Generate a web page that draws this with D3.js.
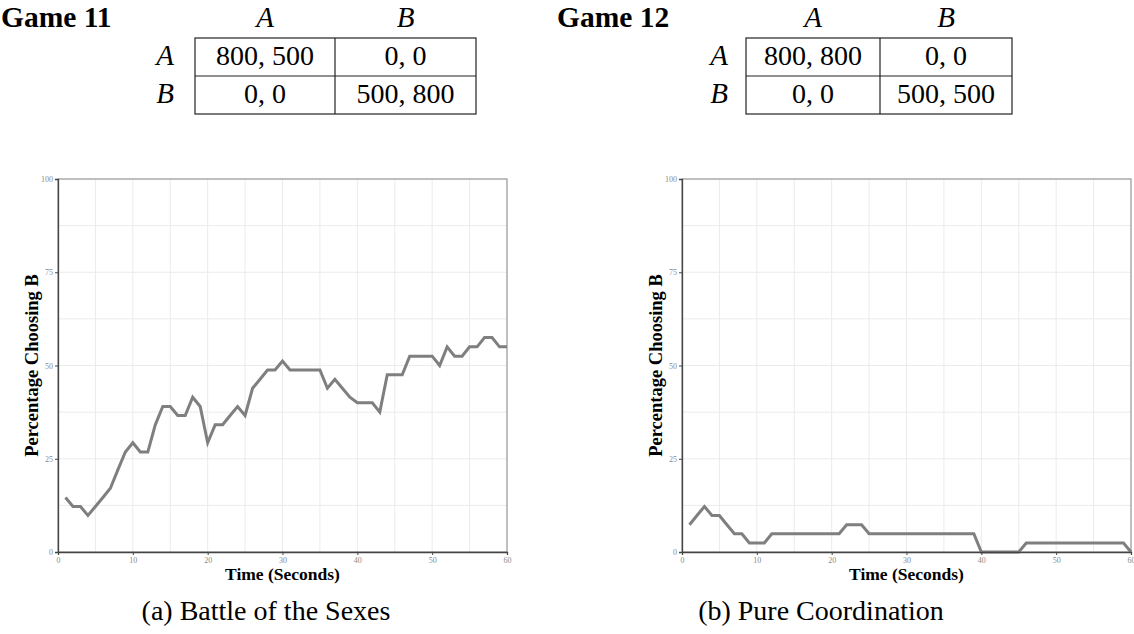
<!DOCTYPE html>
<html>
<head>
<meta charset="utf-8">
<script src="https://cdn.jsdelivr.net/npm/d3@7"></script>
<style>
  html, body { margin: 0; padding: 0; background: #fff; }
  svg { display: block; }
</style>
</head>
<body>
<svg id="fig" width="1134" height="634"></svg>
<script>
// Time in seconds for each observation
const seconds = [1,2,3,4,5,6,7,8,9,10,11,12,13,14,15,16,17,18,19,20,
  21,22,23,24,25,26,27,28,29,30,31,32,33,34,35,36,37,38,39,40,
  41,42,43,44,45,46,47,48,49,50,51,52,53,54,55,56,57,58,59,60];

// Game 11 (Battle of the Sexes): percentage choosing B
const battleSexes = [14.6,12.2,12.2,9.8,12.2,14.6,17.1,22.0,26.8,29.3,
  26.8,26.8,34.1,39.0,39.0,36.6,36.6,41.5,39.0,29.3,
  34.1,34.1,36.6,39.0,36.6,43.9,46.3,48.8,48.8,51.2,
  48.8,48.8,48.8,48.8,48.8,43.9,46.3,43.9,41.5,40.0,
  40.0,40.0,37.5,47.5,47.5,47.5,52.5,52.5,52.5,52.5,
  50.0,55.0,52.5,52.5,55.0,55.0,57.5,57.5,55.0,55.0];

// Game 12 (Pure Coordination): percentage choosing B
const pureCoordination = [7.3,9.8,12.2,9.8,9.8,7.3,4.9,4.9,2.4,2.4,
  2.4,4.9,4.9,4.9,4.9,4.9,4.9,4.9,4.9,4.9,
  4.9,7.3,7.3,7.3,4.9,4.9,4.9,4.9,4.9,4.9,
  4.9,4.9,4.9,4.9,4.9,4.9,4.9,4.9,4.9,0,
  0,0,0,0,0,2.4,2.4,2.4,2.4,2.4,
  2.4,2.4,2.4,2.4,2.4,2.4,2.4,2.4,2.4,0];

// Axis ticks
const xTicks = [0,10,20,30,40,50,60];
const xMinor = [5,15,25,35,45,55];
const yTicks = [0,25,50,75,100];
const yMinor = [12.5,37.5,62.5,87.5];

// Payoff matrices
const strategies = ["A","B"];
const payoffs11 = [["800, 500","0, 0"],["0, 0","500, 800"]];
const payoffs12 = [["800, 800","0, 0"],["0, 0","500, 500"]];

const svg = d3.select("#fig");
const serif = "'Liberation Serif','Times New Roman',serif";

function drawMatrix(g, title, payoffs, box) {
  g.append("text").attr("x", box.titleX).attr("y", 26.5)
    .attr("font-family", serif).attr("font-weight", "bold")
    .attr("font-size", 29.5).attr("fill", "#000").text(title);
  const colCenters = [(box.left + box.mid) / 2, (box.mid + box.right) / 2];
  const rowEdges = [box.top, box.midY, box.bottom];
  strategies.forEach((s, i) => {
    g.append("text").attr("x", colCenters[i]).attr("y", 26.5)
      .attr("text-anchor", "middle").attr("font-family", serif)
      .attr("font-style", "italic").attr("font-size", 29).text(s);
    g.append("text").attr("x", box.labelX).attr("y", rowEdges[i] + 27)
      .attr("text-anchor", "middle").attr("font-family", serif)
      .attr("font-style", "italic").attr("font-size", 29).text(s);
  });
  payoffs.forEach((row, i) => row.forEach((cell, j) => {
    g.append("text").attr("x", colCenters[j]).attr("y", rowEdges[i] + 27)
      .attr("text-anchor", "middle").attr("font-family", serif)
      .attr("font-size", 28).text(cell);
  }));
  const st = "#222";
  g.append("rect").attr("x", box.left).attr("y", box.top)
    .attr("width", box.right - box.left).attr("height", box.bottom - box.top)
    .attr("fill", "none").attr("stroke", st).attr("stroke-width", 1.2);
  g.append("line").attr("x1", box.mid).attr("x2", box.mid)
    .attr("y1", box.top).attr("y2", box.bottom).attr("stroke", st).attr("stroke-width", 1.2);
  g.append("line").attr("x1", box.left).attr("x2", box.right)
    .attr("y1", box.midY).attr("y2", box.midY).attr("stroke", st).attr("stroke-width", 1.2);
}

function drawChart(g, values, area, caption, captionX) {
  const x = d3.scaleLinear().domain([0, 60]).range([area.left, area.right]);
  const y = d3.scaleLinear().domain([0, 100]).range([area.bottom, area.top]);
  const grid = g.append("g");
  [...xMinor, ...xTicks].forEach(t => grid.append("line")
    .attr("x1", x(t)).attr("x2", x(t)).attr("y1", y(0)).attr("y2", y(100))
    .attr("stroke", "#ebebeb").attr("stroke-width", 1));
  [...yMinor, ...yTicks].forEach(t => grid.append("line")
    .attr("x1", x(0)).attr("x2", x(60)).attr("y1", y(t)).attr("y2", y(t))
    .attr("stroke", "#ebebeb").attr("stroke-width", 1));

  g.append("rect").attr("x", x(0)).attr("y", y(100))
    .attr("width", x(60) - x(0)).attr("height", y(0) - y(100))
    .attr("fill", "none").attr("stroke", "#8a8a8a").attr("stroke-width", 1);

  const line = d3.line().x((d, i) => x(seconds[i])).y(d => y(d));
  g.append("path").datum(values).attr("d", line)
    .attr("fill", "none").attr("stroke", "#7f7f7f").attr("stroke-width", 3);

  const xAxis = g.append("g").attr("transform", `translate(0,${area.bottom})`)
    .call(d3.axisBottom(x).tickValues(xTicks).tickSize(3).tickPadding(2));
  const yAxis = g.append("g").attr("transform", `translate(${area.left},0)`)
    .call(d3.axisLeft(y).tickValues(yTicks).tickSize(3).tickPadding(2));
  [xAxis, yAxis].forEach(a => {
    a.select(".domain").attr("stroke", "#444").attr("stroke-width", 1.3);
    a.selectAll(".tick line").attr("stroke", "#444");
    a.selectAll(".tick text").attr("font-family", serif).attr("font-size", 8)
      .attr("fill", "#8a8a8a");
  });

  g.append("text").attr("x", (area.left + area.right) / 2).attr("y", 580)
    .attr("text-anchor", "middle").attr("font-family", serif)
    .attr("font-weight", "bold").attr("font-size", 17.5).text("Time (Seconds)");
  g.append("text")
    .attr("transform", `translate(${area.left - 20},${(area.top + area.bottom) / 2}) rotate(-90)`)
    .attr("text-anchor", "middle").attr("font-family", serif)
    .attr("font-weight", "bold").attr("font-size", 18.5).text("Percentage Choosing B");

  g.append("text").attr("x", captionX).attr("y", 620)
    .attr("text-anchor", "middle").attr("font-family", serif)
    .attr("font-size", 28).text(caption);
}

drawMatrix(svg.append("g"), "Game 11", payoffs11,
  {titleX: 1, left: 195, mid: 335, right: 476, top: 38, midY: 76, bottom: 114, labelX: 165});
drawMatrix(svg.append("g"), "Game 12", payoffs12,
  {titleX: 557, left: 746, mid: 880, right: 1012, top: 38, midY: 76, bottom: 114, labelX: 719});

drawChart(svg.append("g"), battleSexes,
  {left: 58, right: 507, top: 179, bottom: 552}, "(a) Battle of the Sexes", 266);
drawChart(svg.append("g"), pureCoordination,
  {left: 682, right: 1131, top: 179, bottom: 552}, "(b) Pure Coordination", 821);
</script>
</body>
</html>
